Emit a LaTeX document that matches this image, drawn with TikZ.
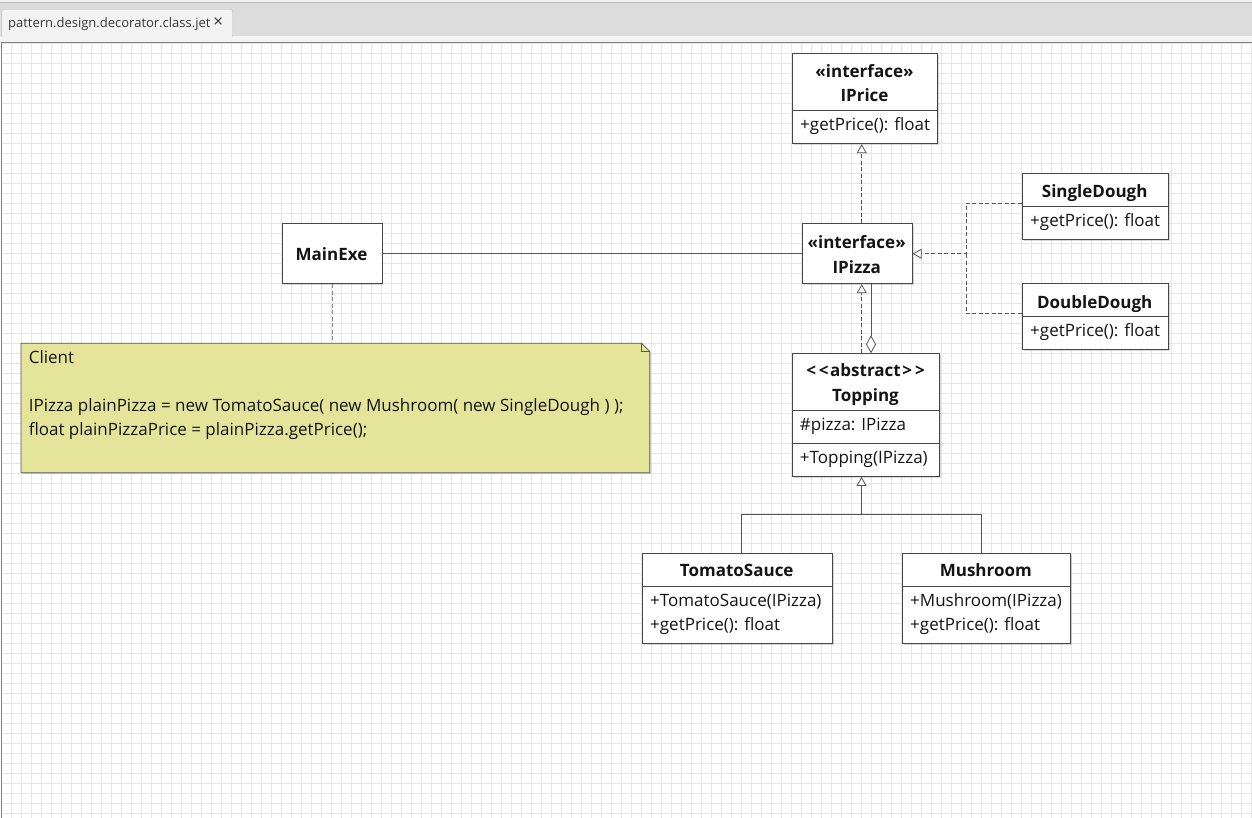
\documentclass[tikz,border=0pt]{standalone}
\usepackage{fontspec}
\setmainfont{Open Sans}
\usetikzlibrary{arrows.meta,shadows}
\definecolor{gridline}{HTML}{E6E6E6}
\definecolor{edge}{HTML}{474747}
\definecolor{conn}{HTML}{555555}
\definecolor{notefill}{HTML}{E4E49B}
\definecolor{barfill}{HTML}{DCDCDC}
\definecolor{tabfill}{HTML}{F3F3F3}
\definecolor{tabedge}{HTML}{BDBDBD}
\definecolor{ink}{HTML}{141414}
\tikzset{
  cls/.style={draw=edge, fill=white, line width=0.9pt, anchor=north west, inner sep=0pt,
    drop shadow={shadow xshift=1.5pt, shadow yshift=-1.5pt, opacity=0.3}},
  head/.style={font=\fontsize{17}{20}\selectfont\bfseries, text=ink, anchor=base, inner sep=0pt},
  member/.style={font=\fontsize{17}{20}\selectfont, text=ink, anchor=base west, inner sep=0pt},
  sep/.style={draw=edge, line width=0.9pt},
  assoc/.style={draw=conn, line width=0.8pt},
  dep/.style={assoc, dash pattern=on 4pt off 2.5pt},
  real/.style={dep, -{Triangle[length=9pt, width=10pt, fill=white]}},
  gen/.style={assoc, -{Triangle[length=9pt, width=10pt, fill=white]}},
  aggr/.style={assoc, -{Diamond[length=18pt, width=10pt, fill=white]}},
  notebox/.style={draw=conn, fill=notefill, line width=0.8pt,
    drop shadow={shadow xshift=1.5pt, shadow yshift=-1.5pt, opacity=0.3}}
}

\begin{document}
\begin{tikzpicture}[x=1pt, y=-1pt]
    \useasboundingbox (0,0) rectangle (1252,818);

    % window frame and tab
    \fill[barfill]   (0,0) rectangle (1252,42);
    \fill[tabfill]   (0,0) rectangle (1252,2);
    \draw[tabedge]   (0,2.5) -- (1252,2.5);
    \fill[tabfill]   (0,36.5) rectangle (1252,42);
    \node[anchor=north west, minimum width=230.5pt, minimum height=27pt, inner sep=0pt] (tab) at (1.8,9.5) {};
    \filldraw[tabedge, fill=tabfill, rounded corners=2pt] (tab.south west) -- (tab.north west) -- (tab.north east) -- (tab.south east);
    \node[anchor=base west, inner sep=0pt, text=ink!85, font=\fontsize{13}{15}\selectfont] (tabname) at (8,28) {pattern.design.decorator.class.jet\hspace{3pt}{\fontsize{17}{17}\selectfont ×}};
    \draw[xshift=1pt, yshift=-3pt, gridline, line width=0.9pt, step=10pt] (0,39) grid (1251,815);
    \draw[gray, line width=1pt] (1,818) -- (1,42.3) -- (1252,42.3);

    % classes
    \node[cls, minimum width=145.6pt, minimum height=90pt]  (iprice)  at (791.7,53.3)  {};
    \node[cls, minimum width=110pt,   minimum height=60pt]  (ipizza)  at (801.7,223.3) {};
    \node[cls, minimum width=146pt,   minimum height=65.7pt] (single) at (1021.7,173.3) {};
    \node[cls, minimum width=146pt,   minimum height=65.7pt] (double) at (1021.7,283.3) {};
    \node[cls, minimum width=100pt,   minimum height=60pt]  (main)    at (281.5,223.3) {};
    \node[cls, minimum width=147.6pt, minimum height=122.7pt] (topping) at (791.7,353.3) {};
    \node[cls, minimum width=190pt,   minimum height=90pt]  (tomato)  at (641.7,553.3) {};
    \node[cls, minimum width=168.3pt, minimum height=90pt]  (mush)    at (901.7,553.3) {};

    \draw[sep] (iprice.west |- 0,110.7)  -- (iprice.east |- 0,110.7);
    \draw[sep] (single.west |- 0,206.7)  -- (single.east |- 0,206.7);
    \draw[sep] (double.west |- 0,316.7)  -- (double.east |- 0,316.7);
    \draw[sep] (topping.west |- 0,410.7) -- (topping.east |- 0,410.7);
    \draw[sep] (topping.west |- 0,443.3) -- (topping.east |- 0,443.3);
    \draw[sep] (tomato.west |- 0,586)    -- (tomato.east |- 0,586);
    \draw[sep] (mush.west |- 0,586)      -- (mush.east |- 0,586);

    \node[head]   (ipricea)  at (864.5,77.3)  {«interface»};
    \node[head]   (ipriceb)  at (864.5,101.7) {IPrice};
    \node[member] (ipricec)  at (800,131)     {+getPrice(): float};
    \node[head]   (ipizzaa)  at (856.7,249)   {«interface»};
    \node[head]   (ipizzab)  at (856.7,273)   {IPizza};
    \node[head]   (singlea)  at (1094.7,197.7) {SingleDough};
    \node[member] (singleb)  at (1030,226.7)  {+getPrice(): float};
    \node[head]   (doublea)  at (1094.7,308.3) {DoubleDough};
    \node[member] (doubleb)  at (1030,336.7)  {+getPrice(): float};
    \node[head]   (maina)    at (331.5,261)   {MainExe};
    \node[head]   (toppinga) at (865.5,376.7) {{<}\kern3pt{<}\kern1.5pt abstract\kern1.5pt{>}\kern3pt{>}};
    \node[head]   (toppingb) at (865.5,401.7) {Topping};
    \node[member] (toppingc) at (799.7,430)   {\#pizza: IPizza};
    \node[member] (toppingd) at (799.7,463.3) {+Topping(IPizza)};
    \node[head]   (tomatoa)  at (736.7,576.7) {TomatoSauce};
    \node[member] (tomatob)  at (650,606.7)   {+TomatoSauce(IPizza)};
    \node[member] (tomatoc)  at (650,630)     {+getPrice(): float};
    \node[head]   (musha)    at (985.8,576.7) {Mushroom};
    \node[member] (mushb)    at (910,606.7)   {+Mushroom(IPizza)};
    \node[member] (mushc)    at (910,630)     {+getPrice(): float};

    % note
    \node[anchor=north west, minimum width=628.3pt, minimum height=129pt, inner sep=0pt] (note) at (21,343.3) {};
    \filldraw[notebox] (note.north west) -- ([xshift=-8pt]note.north east) -- ([yshift=-8pt]note.north east) -- (note.south east) -- (note.south west) -- cycle;
    \draw[conn, line width=0.8pt] ([xshift=-8pt]note.north east) -- ([xshift=-8pt,yshift=-8pt]note.north east) -- ([yshift=-8pt]note.north east);
    \node[member] (notea) at (28.6,363.3) {Client};
    \node[member] (noteb) at (28.6,411.7) {IPizza plainPizza = new TomatoSauce( new Mushroom( new SingleDough ) );};
    \node[member] (notec) at (28.6,435)   {float plainPizzaPrice = plainPizza.getPrice();};

    % connectors
    \coordinate (j) at (861.5,514.3);
    \draw[assoc]  (main.east) -- (ipizza.west);
    \draw[dep, conn!70] (main.south) -- (note.north -| main.south);
    \draw[real]   (ipizza.north -| 861.7,0) -- (iprice.south -| 861.7,0);
    \draw[real]   (single.west |- 0,203.5) -| (ipizza.east -| 966,0) -- (ipizza.east);
    \draw[dep]    (double.west |- 0,313.3) -| (ipizza.east -| 966,0);
    \draw[real]   (topping.north -| 861.7,0) -- (ipizza.south -| 861.7,0);
    \draw[aggr]   (ipizza.south -| 871,0) -- (topping.north -| 871,0);
    \draw[assoc]  (tomato.north -| 741.7,0) |- (j);
    \draw[assoc]  (mush.north -| 981.7,0) |- (j);
    \draw[gen]    (j) -- (topping.south -| j);
\end{tikzpicture}
\end{document}
